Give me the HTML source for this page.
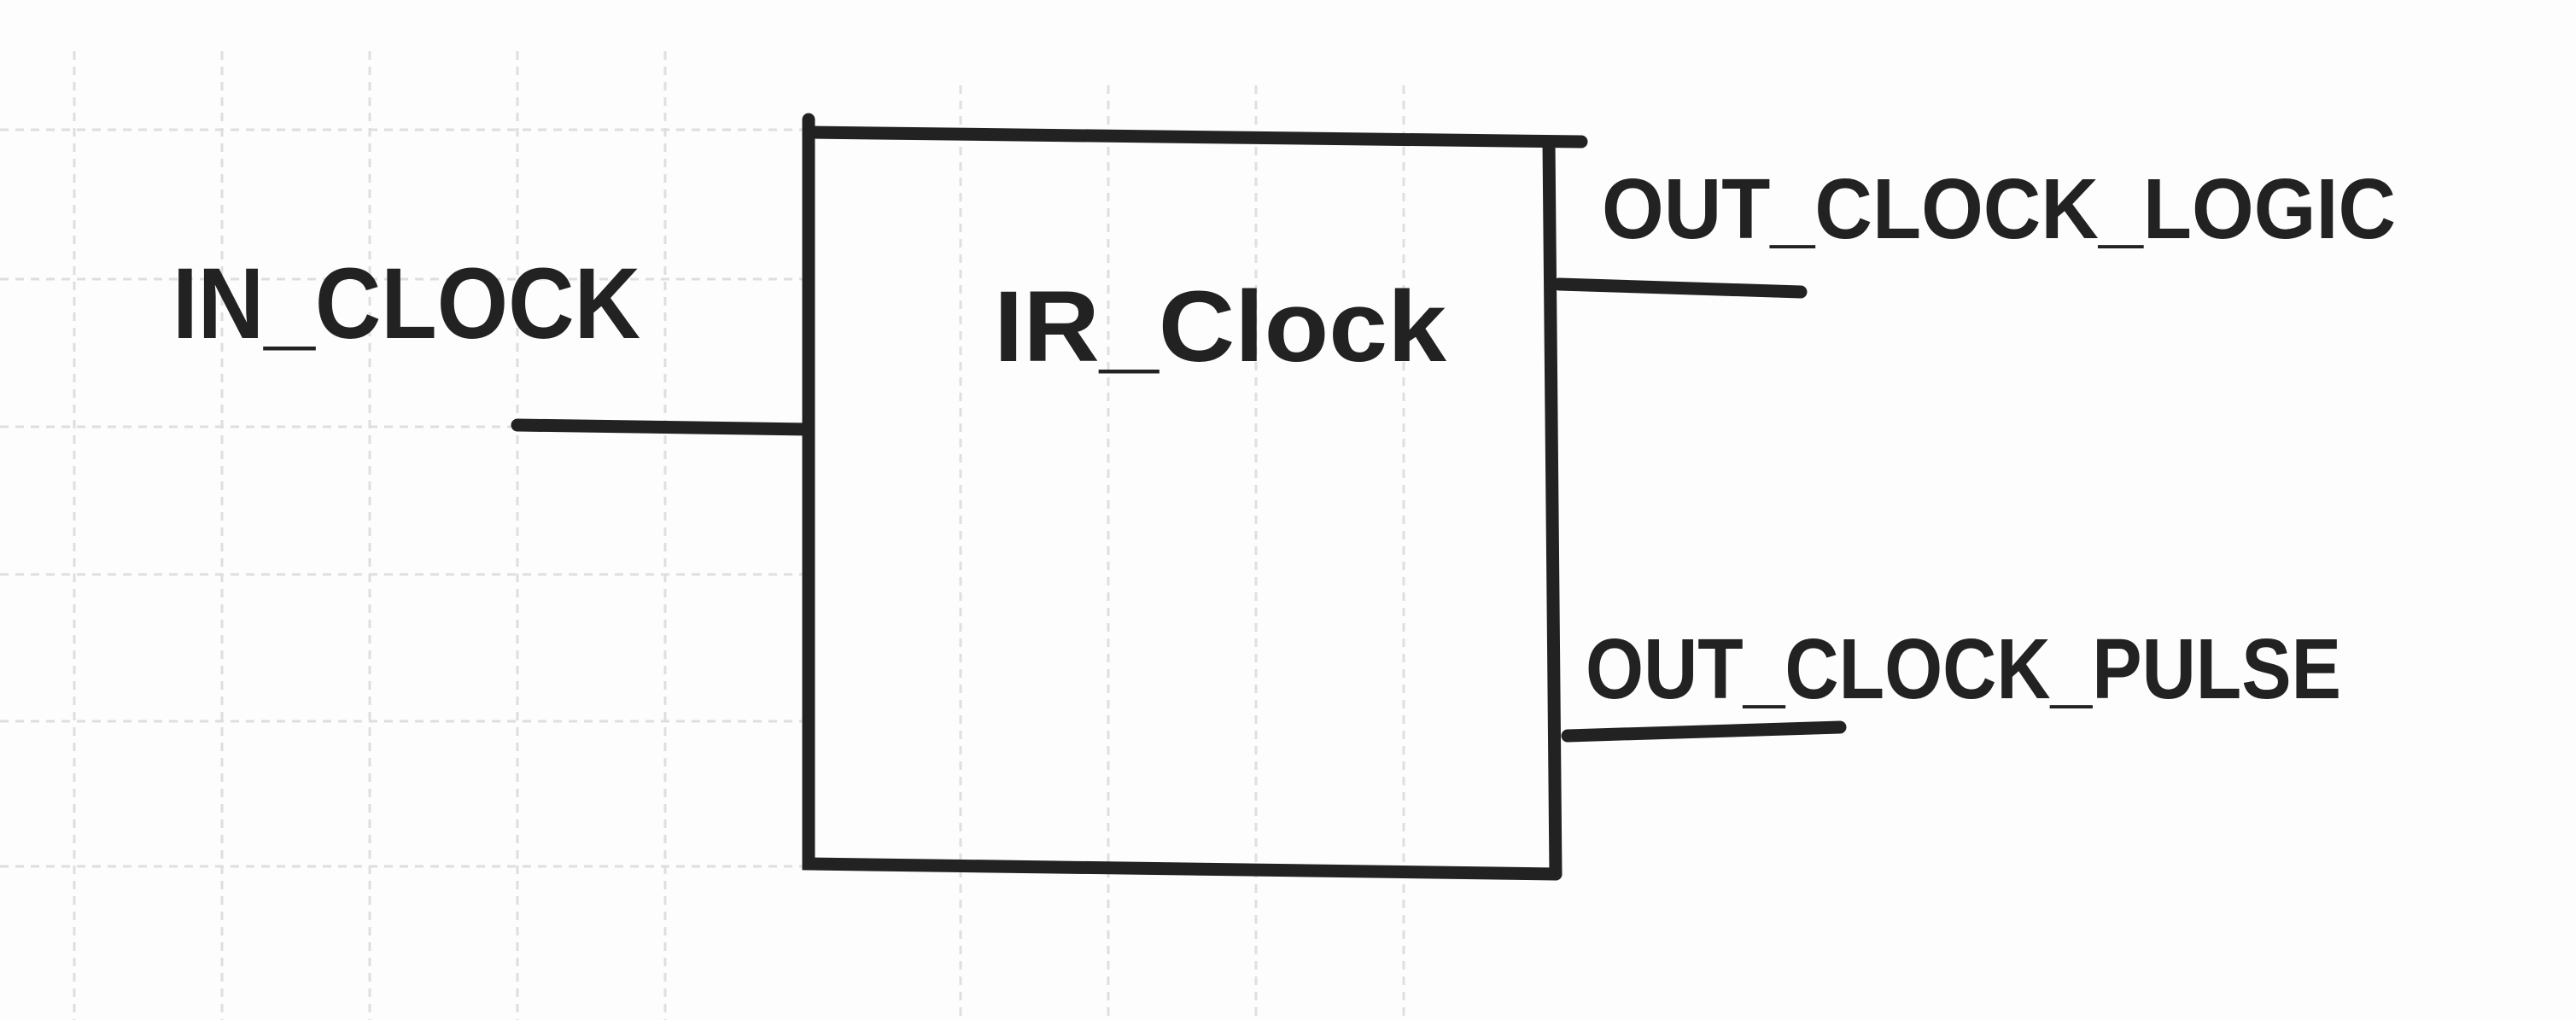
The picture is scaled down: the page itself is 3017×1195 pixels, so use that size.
<!DOCTYPE html>
<html><head><meta charset="utf-8"><style>html,body{margin:0;padding:0;background:#fff}svg{display:block}</style></head>
<body>
<svg width="3017" height="1195" viewBox="0 0 3017 1195" xmlns="http://www.w3.org/2000/svg">
<rect width="3017" height="1195" fill="#fdfdfd"/>
<g stroke="#d2d2d2" stroke-width="3" stroke-dasharray="10 8" fill="none" opacity="0.7">
<line x1="0" y1="152" x2="940" y2="152"/>
<line x1="0" y1="327" x2="940" y2="327"/>
<line x1="0" y1="500" x2="940" y2="500"/>
<line x1="0" y1="673" x2="940" y2="673"/>
<line x1="0" y1="845" x2="940" y2="845"/>
<line x1="0" y1="1015" x2="940" y2="1015"/>
<line x1="87" y1="60" x2="87" y2="1195"/>
<line x1="260" y1="60" x2="260" y2="1195"/>
<line x1="433" y1="60" x2="433" y2="1195"/>
<line x1="606" y1="60" x2="606" y2="1195"/>
<line x1="779" y1="60" x2="779" y2="1195"/>
<line x1="1125" y1="100" x2="1125" y2="1195"/>
<line x1="1298" y1="100" x2="1298" y2="1195"/>
<line x1="1471" y1="100" x2="1471" y2="1195"/>
<line x1="1644" y1="100" x2="1644" y2="1195"/>
</g>
<g stroke="#222" stroke-width="15" stroke-linecap="round" fill="none">
<path d="M947 155 L1852 166"/>
<path d="M947 140 L947 1012 L1822 1024"/>
<path d="M1814 166 L1822 1024"/>
<path d="M606 498 L947 503"/>
<path d="M1826 333 L2109 342"/>
<path d="M1836 862 L2155 852"/>
</g>
<g fill="#222" font-family="Liberation Sans, sans-serif" font-weight="bold">
<text x="202" y="396" font-size="118" textLength="548" lengthAdjust="spacingAndGlyphs">IN_CLOCK</text>
<text x="1164" y="423" font-size="118" textLength="530" lengthAdjust="spacingAndGlyphs">IR_Clock</text>
<text x="1876" y="279" font-size="100" textLength="930" lengthAdjust="spacingAndGlyphs">OUT_CLOCK_LOGIC</text>
<text x="1857" y="818" font-size="100" textLength="885" lengthAdjust="spacingAndGlyphs">OUT_CLOCK_PULSE</text>
</g>
</svg>
</body></html>
